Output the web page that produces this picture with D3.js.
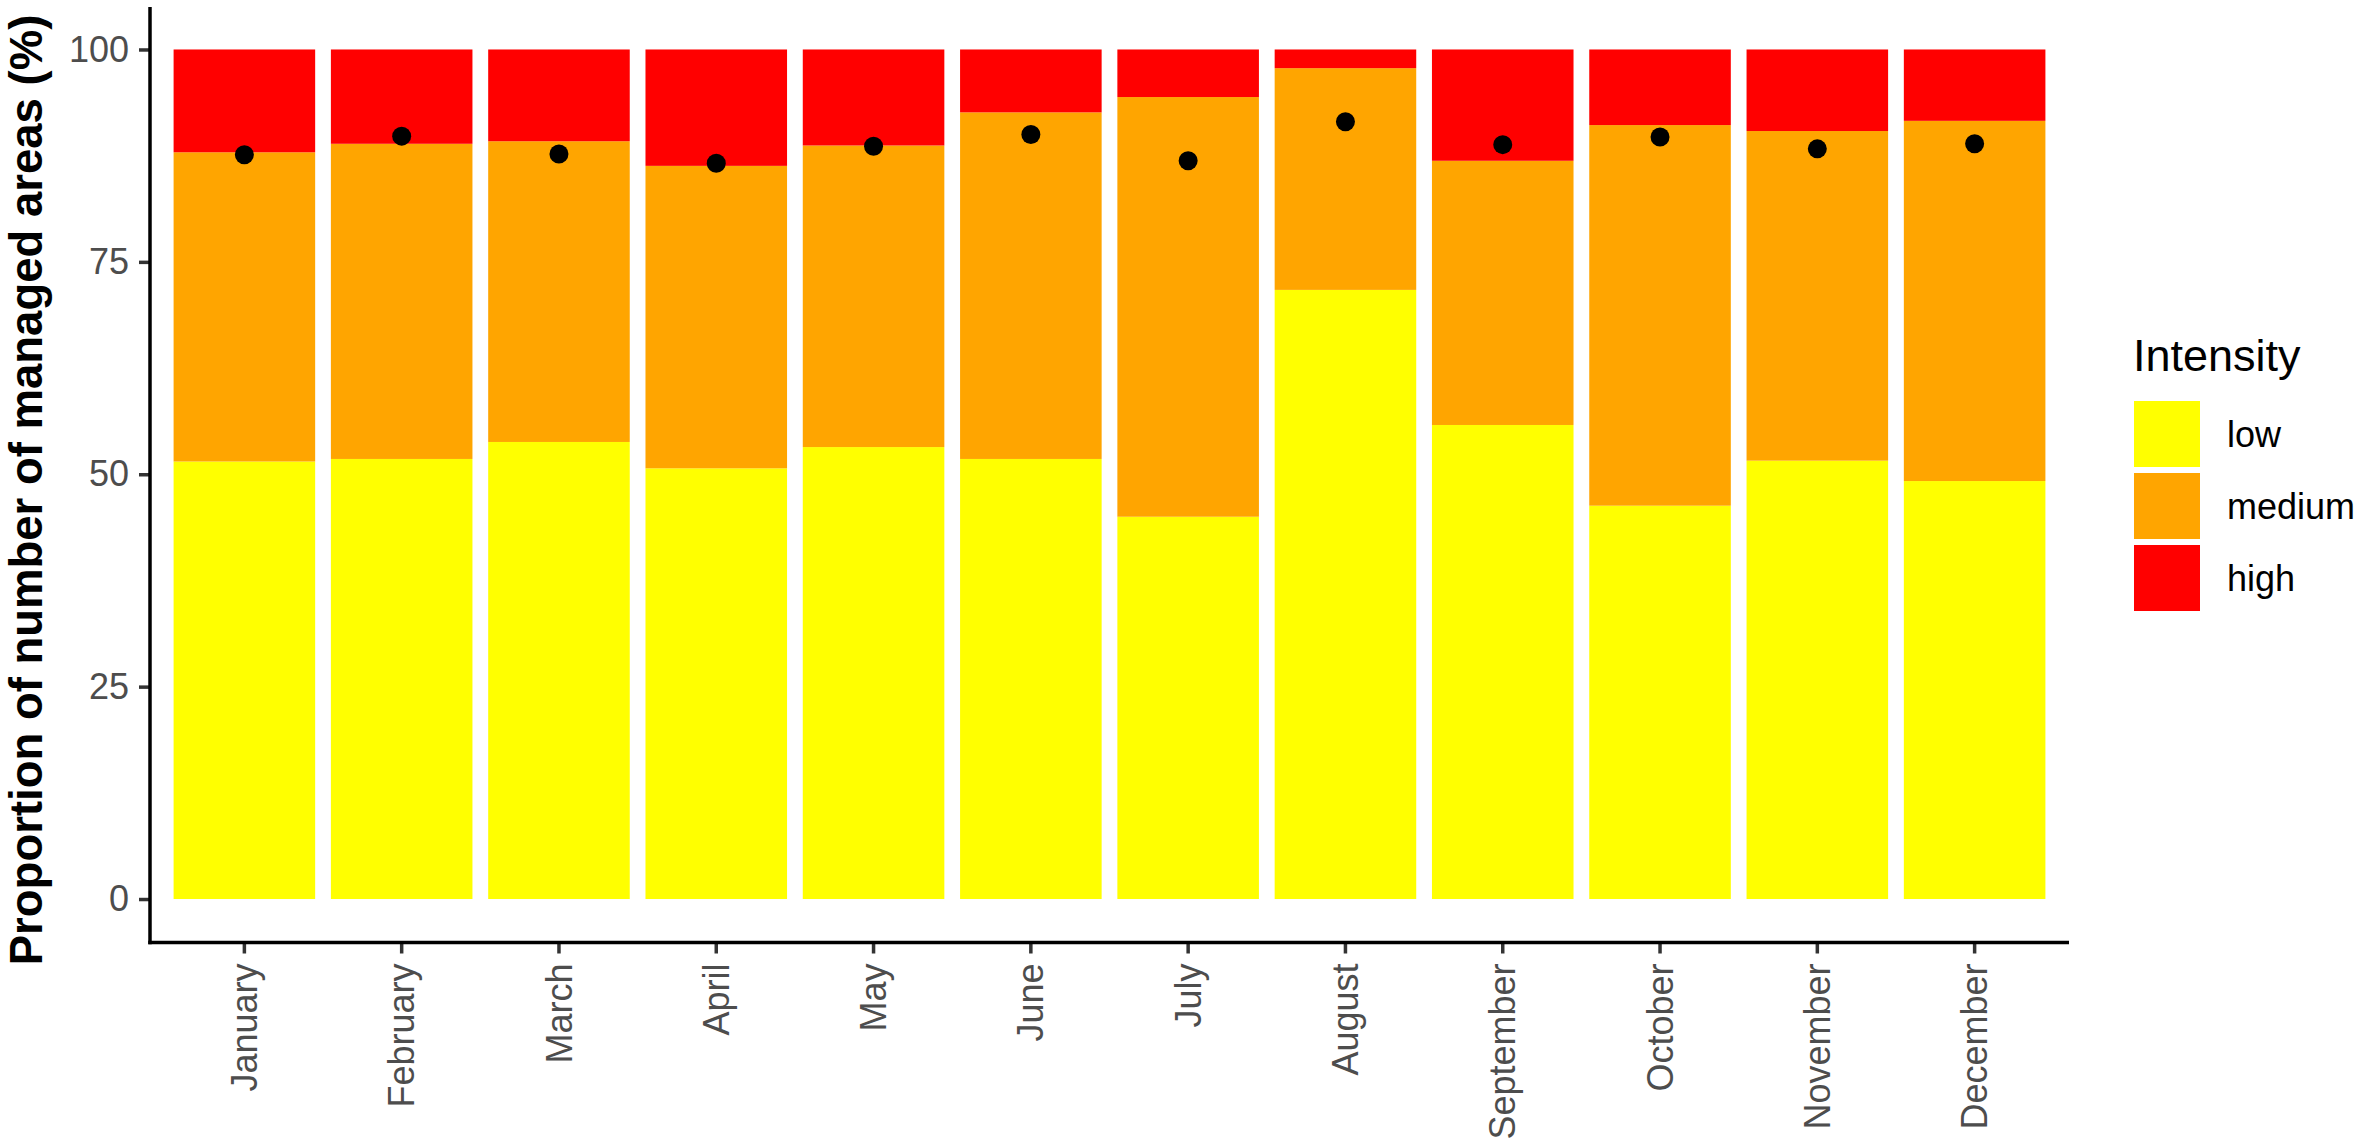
<!DOCTYPE html>
<html>
<head>
<meta charset="utf-8">
<script src="https://cdn.jsdelivr.net/npm/d3@7"></script>
<style>
	body { margin: 0; background: #ffffff; }
	text { font-family: 'Liberation Sans', Arial, sans-serif; }
</style>
</head>
<body>
<div id="chart"></div>
<script>
// Months on the x axis
var months = ['January', 'February', 'March', 'April', 'May', 'June', 'July', 'August', 'September', 'October', 'November', 'December'];

// Share (%) of managed areas per intensity class
var lowValues = [51.5, 51.8, 53.8, 50.7, 53.2, 51.8, 45.0, 71.7, 55.8, 46.3, 51.6, 49.2];
var mediumValues = [36.4, 37.1, 35.4, 35.6, 35.5, 40.8, 49.4, 26.1, 31.1, 44.8, 38.8, 42.4];
var highValues = [12.1, 11.1, 10.8, 13.7, 11.3, 7.4, 5.6, 2.2, 13.1, 8.9, 9.6, 8.4];

// Black points drawn over each bar
var pointValues = [87.6, 89.8, 87.7, 86.6, 88.6, 90.0, 86.9, 91.5, 88.8, 89.7, 88.3, 88.9];

var intensityLevels = ['low', 'medium', 'high'];
var intensityColors = ['#ffff00', '#ffa500', '#ff0000'];
var yTicks = [0, 25, 50, 75, 100];

// Set up svg width and height
var svgWidth = 2360;
var svgHeight = 1144;

// Panel edges (pixels)
var panel = { left: 150, right: 2069, top: 7, bottom: 941.5 };

var svg = d3.select('#chart').append('svg').attr('width', svgWidth).attr('height', svgHeight);

// Build rows for the stack
var rows = months.map(function(m, i) {
	return { month: m, low: lowValues[i], medium: mediumValues[i], high: highValues[i], point: pointValues[i] };
});

// Scales
var xScale = d3.scaleBand().domain(months).range([ panel.left, panel.right ]).paddingInner(0.1).paddingOuter(0.15);
var yScale = d3.scaleLinear().domain([ -5, 105 ]).range([ panel.bottom, panel.top ]);
var colorScale = d3.scaleOrdinal().domain(intensityLevels).range(intensityColors);

var stacked = d3.stack().keys(intensityLevels)(rows);

// Stacked bars
svg
	.append('g')
	.selectAll('g')
	.data(stacked)
	.enter()
	.append('g')
	.attr('fill', (d) => colorScale(d.key))
	.selectAll('rect')
	.data((d) => d)
	.enter()
	.append('rect')
	.attr('x', (d) => xScale(d.data.month))
	.attr('width', xScale.bandwidth())
	.attr('y', (d) => yScale(d[1]))
	.attr('height', (d) => yScale(d[0]) - yScale(d[1]));

// Points
svg
	.append('g')
	.selectAll('circle')
	.data(rows)
	.enter()
	.append('circle')
	.attr('cx', (d) => xScale(d.month) + xScale.bandwidth() / 2)
	.attr('cy', (d) => yScale(d.point))
	.attr('r', 9.5)
	.attr('fill', '#000000');

// Y axis
var yAxis = svg
	.append('g')
	.attr('transform', `translate(${panel.left}, 0)`)
	.call(d3.axisLeft(yScale).tickValues(yTicks).tickSize(11).tickPadding(10));
yAxis.select('.domain').remove();
yAxis.selectAll('.tick line').attr('stroke', '#333333').attr('stroke-width', 3.5);
yAxis.selectAll('.tick text').attr('font-size', 36).attr('fill', '#4d4d4d').attr('font-family', "'Liberation Sans', Arial, sans-serif");

// X axis
var xAxis = svg
	.append('g')
	.attr('transform', `translate(0, ${panel.bottom + 1})`)
	.call(d3.axisBottom(xScale).tickSize(11).tickSizeOuter(0));
xAxis.select('.domain').remove();
xAxis.selectAll('.tick line').attr('stroke', '#333333').attr('stroke-width', 3.5);
xAxis
	.selectAll('.tick text')
	.attr('font-size', 36)
	.attr('fill', '#4d4d4d')
	.attr('font-family', "'Liberation Sans', Arial, sans-serif")
	.attr('text-anchor', 'end')
	.attr('transform', 'translate(0, 21) rotate(-90)')
	.attr('x', 0)
	.attr('y', 0)
	.attr('dy', '0.35em');

// Axis lines
svg
	.append('line')
	.attr('x1', panel.left)
	.attr('x2', panel.left)
	.attr('y1', panel.top)
	.attr('y2', panel.bottom + 2.75)
	.attr('stroke', '#000000')
	.attr('stroke-width', 3.5);
svg
	.append('line')
	.attr('x1', panel.left - 1.75)
	.attr('x2', panel.right)
	.attr('y1', panel.bottom + 1)
	.attr('y2', panel.bottom + 1)
	.attr('stroke', '#000000')
	.attr('stroke-width', 3.5);

// Y axis title
svg
	.append('text')
	.attr('transform', 'translate(41.5, 490) rotate(-90)')
	.attr('text-anchor', 'middle')
	.attr('font-size', 45.5)
	.attr('font-weight', 'bold')
	.attr('fill', '#000000')
	.text('Proportion of number of managed areas (%)');

// Legend
var legend = svg.append('g').attr('transform', 'translate(2134, 0)');
legend.append('text').attr('x', -1).attr('y', 371).attr('font-size', 45).attr('fill', '#000000').text('Intensity');

var keys = legend
	.selectAll('.key')
	.data(intensityLevels)
	.enter()
	.append('g')
	.attr('class', 'key')
	.attr('transform', (d, i) => `translate(0, ${401 + i * 72})`);
keys.append('rect').attr('width', 66).attr('height', 66).attr('fill', (d) => colorScale(d));
keys
	.append('text')
	.attr('x', 93)
	.attr('y', 33)
	.attr('dy', '0.35em')
	.attr('font-size', 36)
	.attr('fill', '#000000')
	.text((d) => d);
</script>
</body>
</html>
